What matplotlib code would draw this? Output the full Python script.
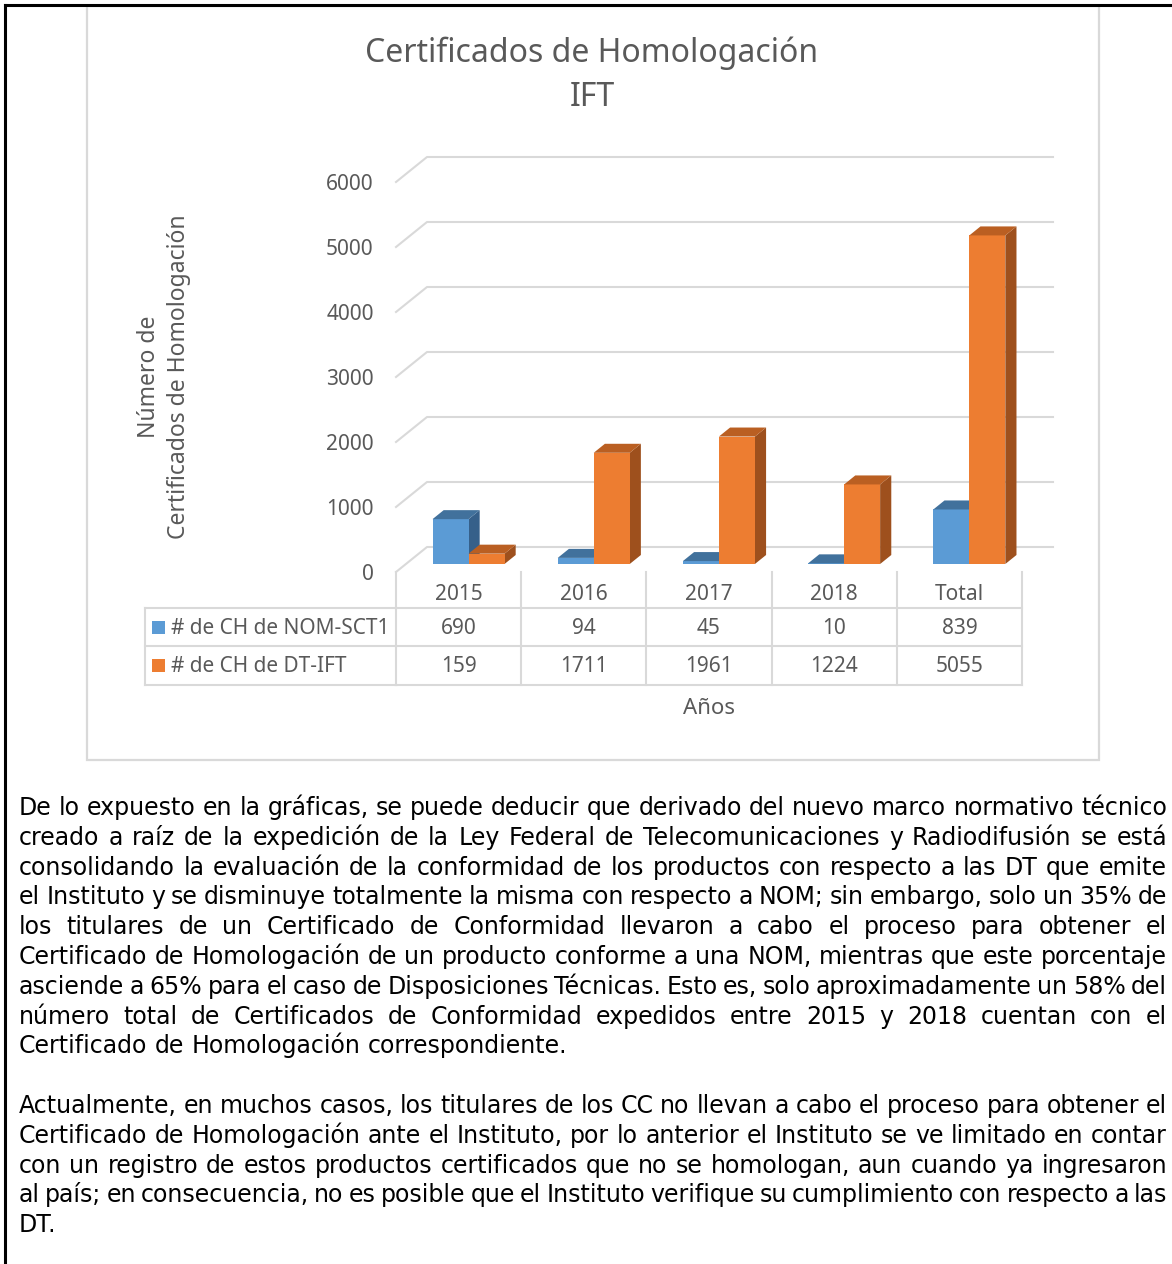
import matplotlib
matplotlib.use('Agg')
import matplotlib.pyplot as plt
import matplotlib.transforms as mtransforms
from matplotlib.patches import Polygon, Rectangle

# data
years = ['2015', '2016', '2017', '2018', 'Total']
nom_sct1 = [690, 94, 45, 10, 839]
dt_ift = [159, 1711, 1961, 1224, 5055]
series_names = ['# de CH de NOM-SCT1', '# de CH de DT-IFT']
yticks = [0, 1000, 2000, 3000, 4000, 5000, 6000]

title_lines = ['Certificados de Homologación', 'IFT']
ylabel = 'Número de\nCertificados de Homologación'
xlabel = 'Años'

para1 = [
    'De lo expuesto en la gráficas, se puede deducir que derivado del nuevo marco normativo técnico',
    'creado a raíz de la expedición de la Ley Federal de Telecomunicaciones y Radiodifusión se está',
    'consolidando la evaluación de la conformidad de los productos con respecto a las DT que emite',
    'el Instituto y se disminuye totalmente la misma con respecto a NOM; sin embargo, solo un 35% de',
    'los titulares de un Certificado de Conformidad llevaron a cabo el proceso para obtener el',
    'Certificado de Homologación de un producto conforme a una NOM, mientras que este porcentaje',
    'asciende a 65% para el caso de Disposiciones Técnicas.  Esto es, solo aproximadamente un 58% del',
    'número total de Certificados de Conformidad expedidos entre 2015 y 2018 cuentan con el',
    'Certificado de Homologación correspondiente.',
]
para2 = [
    'Actualmente, en muchos casos, los titulares de los CC no llevan a cabo el proceso para obtener el',
    'Certificado de Homologación ante el Instituto, por lo anterior el Instituto se ve limitado en contar',
    'con un registro de estos productos certificados que no se homologan, aun cuando ya ingresaron',
    'al país; en consecuencia, no es posible que el Instituto verifique su cumplimiento con respecto a las',
    'DT.',
]

blue = ['#5B9BD5', '#41719C', '#36608A']
orange = ['#ED7D31', '#BA5F22', '#9E501D']
grid_c = '#D9D9D9'
txt_c = '#595959'
chart_font = 'Noto Sans'

W, H = 1172, 1264
fig = plt.figure(figsize=(W / 100, H / 100), dpi=100)

# background axes in pixel units (frame, table, text)
bg = fig.add_axes([0, 0, 1, 1])
bg.set_xlim(0, W)
bg.set_ylim(H, 0)
bg.axis('off')

# page border and chart frame
bg.plot([5, 5], [5, H], color='black', lw=2.2)
bg.plot([5, W], [5, 5], color='black', lw=2.2)
bg.add_patch(Rectangle((87, 6), 1012, 754, fill=False, ec=grid_c, lw=1.6))

# front plane of the 3d plot
L, R, B, T = 396, 1022, 572, 182
ax = fig.add_axes([L / W, 1 - B / H, (R - L) / W, (B - T) / H])
ax.set_xlim(-0.5, len(years) - 0.5)
ax.set_ylim(0, 6000)
ax.patch.set_visible(False)
for sp in ax.spines.values():
    sp.set_visible(False)
ax.set_xticks([])
ax.set_yticks(yticks)
ax.tick_params(length=0, pad=16, labelsize=15, labelcolor=txt_c)
for lab in ax.get_yticklabels():
    lab.set_fontfamily(chart_font)

px_cat = (R - L) / len(years)
px_val = (B - T) / 6000
DX = 31 / px_cat
DY = 25 / px_val

# side wall + back wall gridlines
for v in yticks:
    ax.plot([-0.5, -0.5 + DX, len(years) - 0.5 + DX], [v, v + DY, v + DY],
            color=grid_c, lw=1.5, clip_on=False, zorder=0)

# 3d bars
z0, z1 = 0.32, 0.68
w = 36 / px_cat
ddx, ddy = (z1 - z0) * DX, (z1 - z0) * DY
for i in range(len(years)):
    for s, (vals, cols) in enumerate([(nom_sct1, blue), (dt_ift, orange)]):
        x0 = i - w + s * w + z0 * DX
        x1 = x0 + w
        y0 = z0 * DY
        y1 = vals[i] + z0 * DY
        front = [(x0, y0), (x1, y0), (x1, y1), (x0, y1)]
        top = [(x0, y1), (x1, y1), (x1 + ddx, y1 + ddy), (x0 + ddx, y1 + ddy)]
        side = [(x1, y0), (x1 + ddx, y0 + ddy), (x1 + ddx, y1 + ddy), (x1, y1)]
        for poly, c in [(side, cols[2]), (front, cols[0]), (top, cols[1])]:
            ax.add_patch(Polygon(poly, closed=True, fc=c, ec='none', clip_on=False, zorder=2))

# data table under the plot (x in categories, y in pixels)
tr = mtransforms.blended_transform_factory(ax.transData, bg.transData)
row_lines = [608, 646, 685]
left_px = 145
for k in range(len(years) + 1):
    bg.plot([k - 0.5] * 2, [B, row_lines[-1]], color=grid_c, lw=1.5, transform=tr)
for yl in row_lines:
    bg.plot([left_px, L], [yl, yl], color=grid_c, lw=1.5)
    bg.plot([-0.5, len(years) - 0.5], [yl, yl], color=grid_c, lw=1.5, transform=tr)
bg.plot([left_px, left_px], [row_lines[0], row_lines[-1]], color=grid_c, lw=1.5)

for i, yr in enumerate(years):
    bg.text(i, 595, yr, transform=tr, ha='center', va='center', fontsize=15,
            color=txt_c, family=chart_font)
    for r, vals in enumerate([nom_sct1, dt_ift]):
        bg.text(i, 628 + 38 * r, str(vals[i]), transform=tr, ha='center', va='center',
                fontsize=15, color=txt_c, family=chart_font)
for r, (name, cols) in enumerate([(series_names[0], blue), (series_names[1], orange)]):
    yc = 627 + 38 * r
    bg.add_patch(Rectangle((152, yc - 6.5), 13, 13, fc=cols[0], ec='none'))
    bg.text(171, yc + 1, name, ha='left', va='center', fontsize=15, color=txt_c, family=chart_font)

bg.text((L + R) / 2, 709, xlabel, ha='center', va='center', fontsize=16, color=txt_c, family=chart_font)
for k, tl in enumerate(title_lines):
    bg.text(592, 53 + 45 * k, tl, ha='center', va='center', fontsize=23, color=txt_c,
            family=chart_font)
bg.text(164, 377, ylabel, ha='center', va='center', rotation=90, multialignment='center',
        fontsize=16.5, color=txt_c, family=chart_font, linespacing=1.3)

# justified paragraphs below the chart
renderer = fig.canvas.get_renderer()
X0, X1 = 19, 1167
pfs = 17


def put_line(line, yb, last=False):
    words = line.split()
    texts = [bg.text(0, yb, wd, fontsize=pfs, ha='left', va='baseline', color='black')
             for wd in words]
    widths = [t.get_window_extent(renderer).width for t in texts]
    if last or len(words) < 2:
        gap = space_w
    else:
        gap = max((X1 - X0 - sum(widths)) / (len(words) - 1), 0.6 * space_w)
    x = X0
    for t, wd in zip(texts, widths):
        t.set_x(x)
        x += wd + gap


t1 = bg.text(0, 0, 'a a', fontsize=pfs)
t2 = bg.text(0, 0, 'aa', fontsize=pfs)
space_w = t1.get_window_extent(renderer).width - t2.get_window_extent(renderer).width
t1.remove()
t2.remove()

lh = 29.8
for k, line in enumerate(para1):
    put_line(line, 815 + k * lh, last=(k == len(para1) - 1))
for k, line in enumerate(para2):
    put_line(line, 1113 + k * lh, last=(k == len(para2) - 1))

fig.savefig('out.png', dpi=100)
